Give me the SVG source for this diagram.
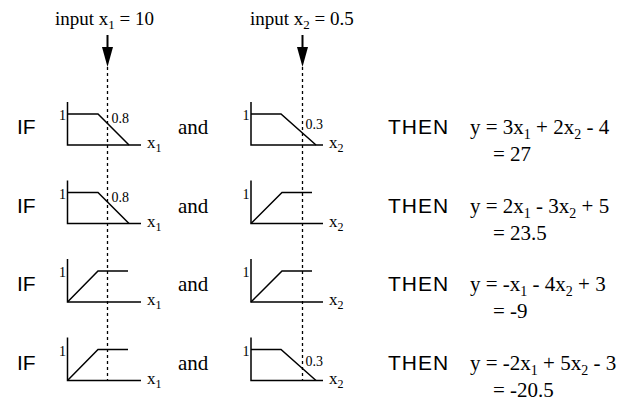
<svg xmlns="http://www.w3.org/2000/svg" width="627" height="405" viewBox="0 0 627 405">
<style>
.ax{fill:none;stroke:#000;stroke-width:1.5}
.mf{fill:none;stroke:#000;stroke-width:1.5;stroke-linejoin:miter}
.dash{fill:none;stroke:#000;stroke-width:1.3;stroke-dasharray:3,3}
.shaft{stroke:#000;stroke-width:2}
.kw{font-family:'Liberation Sans',Arial,sans-serif;font-size:21px;fill:#000}
.th{letter-spacing:1px}
.sr{font-family:'Liberation Serif','Times New Roman',serif;font-size:19px;fill:#000}
.eq{font-family:'Liberation Serif','Times New Roman',serif;font-size:21px;fill:#000}
.lab{font-family:'Liberation Serif','Times New Roman',serif;font-size:17px;fill:#000}
.sm{font-family:'Liberation Serif','Times New Roman',serif;font-size:14px;fill:#000}
</style>

<g id="connectors">
<line class="shaft" x1="107.5" y1="35" x2="107.5" y2="47"/>
<path d="M102,47 L113,47 L107.5,67 Z" fill="#000"/>
<line class="dash" x1="107.5" y1="67" x2="107.5" y2="381"/>
<line class="shaft" x1="302.5" y1="35" x2="302.5" y2="47"/>
<path d="M297,47 L308,47 L302.5,67 Z" fill="#000"/>
<line class="dash" x1="302.5" y1="67" x2="302.5" y2="381"/>
</g>

<g id="input1"><text class="sr" x="55" y="25">input x<tspan font-size="13" dy="4">1</tspan><tspan dy="-4"> = 10</tspan></text></g>
<g id="input2"><text class="sr" x="250" y="25">input x<tspan font-size="13" dy="4">2</tspan><tspan dy="-4"> = 0.5</tspan></text></g>

<!-- Row 1 -->
<g id="row1">
<text class="kw" x="17" y="134">IF</text>
<g id="r1x1">
<path class="ax" d="M67.5,102 V145 H141"/>
<path class="mf" d="M67.5,114 H98 L129,145"/>
<text class="sm" x="59" y="120">1</text>
<text class="sm" x="111.5" y="123">0.8</text>
<text class="lab" x="147" y="148">x<tspan font-size="12" dy="4">1</tspan></text>
</g>
<text class="eq" x="178" y="134">and</text>
<g id="r1x2">
<path class="ax" d="M251,102 V145 H323"/>
<path class="mf" d="M251,114 H281 L316,145"/>
<text class="sm" x="242.5" y="120">1</text>
<text class="sm" x="305.5" y="129">0.3</text>
<text class="lab" x="329" y="148">x<tspan font-size="12" dy="4">2</tspan></text>
</g>
<text class="kw th" x="388" y="134">THEN</text>
<text class="eq" x="470" y="134">y = 3x<tspan font-size="14" dy="5">1</tspan><tspan dy="-5"> + 2x</tspan><tspan font-size="14" dy="5">2</tspan><tspan dy="-5"> - 4</tspan></text>
<text class="eq" x="493" y="161">= 27</text>
</g>

<!-- Row 2 -->
<g id="row2">
<text class="kw" x="17" y="213">IF</text>
<g id="r2x1">
<path class="ax" d="M67.5,180.5 V223.5 H141"/>
<path class="mf" d="M67.5,192.5 H98 L129,223.5"/>
<text class="sm" x="59" y="198.5">1</text>
<text class="sm" x="111.5" y="201.5">0.8</text>
<text class="lab" x="147" y="226.5">x<tspan font-size="12" dy="4">1</tspan></text>
</g>
<text class="eq" x="178" y="213">and</text>
<g id="r2x2">
<path class="ax" d="M251,180.5 V223.5 H323"/>
<path class="mf" d="M251,223.5 L282,192.5 H312"/>
<text class="sm" x="242.5" y="198.5">1</text>
<text class="lab" x="329" y="226.5">x<tspan font-size="12" dy="4">2</tspan></text>
</g>
<text class="kw th" x="388" y="213">THEN</text>
<text class="eq" x="470" y="213">y = 2x<tspan font-size="14" dy="5">1</tspan><tspan dy="-5"> - 3x</tspan><tspan font-size="14" dy="5">2</tspan><tspan dy="-5"> + 5</tspan></text>
<text class="eq" x="493" y="240">= 23.5</text>
</g>

<!-- Row 3 -->
<g id="row3">
<text class="kw" x="17" y="291">IF</text>
<g id="r3x1">
<path class="ax" d="M67.5,259 V302 H141"/>
<path class="mf" d="M67.5,302 L98,271 H128"/>
<text class="sm" x="59" y="277">1</text>
<text class="lab" x="147" y="305">x<tspan font-size="12" dy="4">1</tspan></text>
</g>
<text class="eq" x="178" y="291">and</text>
<g id="r3x2">
<path class="ax" d="M251,259 V302 H323"/>
<path class="mf" d="M251,302 L282,271 H312"/>
<text class="sm" x="242.5" y="277">1</text>
<text class="lab" x="329" y="305">x<tspan font-size="12" dy="4">2</tspan></text>
</g>
<text class="kw th" x="388" y="291">THEN</text>
<text class="eq" x="470" y="291">y = -x<tspan font-size="14" dy="5">1</tspan><tspan dy="-5"> - 4x</tspan><tspan font-size="14" dy="5">2</tspan><tspan dy="-5"> + 3</tspan></text>
<text class="eq" x="493" y="318">= -9</text>
</g>

<!-- Row 4 -->
<g id="row4">
<text class="kw" x="17" y="370">IF</text>
<g id="r4x1">
<path class="ax" d="M67.5,337.5 V380.5 H141"/>
<path class="mf" d="M67.5,380.5 L98,349.5 H128"/>
<text class="sm" x="59" y="355.5">1</text>
<text class="lab" x="147" y="383.5">x<tspan font-size="12" dy="4">1</tspan></text>
</g>
<text class="eq" x="178" y="370">and</text>
<g id="r4x2">
<path class="ax" d="M251,337.5 V380.5 H323"/>
<path class="mf" d="M251,349.5 H281 L316,380.5"/>
<text class="sm" x="242.5" y="355.5">1</text>
<text class="sm" x="305.5" y="366">0.3</text>
<text class="lab" x="329" y="383.5">x<tspan font-size="12" dy="4">2</tspan></text>
</g>
<text class="kw th" x="388" y="370">THEN</text>
<text class="eq" x="470" y="370">y = -2x<tspan font-size="14" dy="5">1</tspan><tspan dy="-5"> + 5x</tspan><tspan font-size="14" dy="5">2</tspan><tspan dy="-5"> - 3</tspan></text>
<text class="eq" x="493" y="397">= -20.5</text>
</g>
</svg>
